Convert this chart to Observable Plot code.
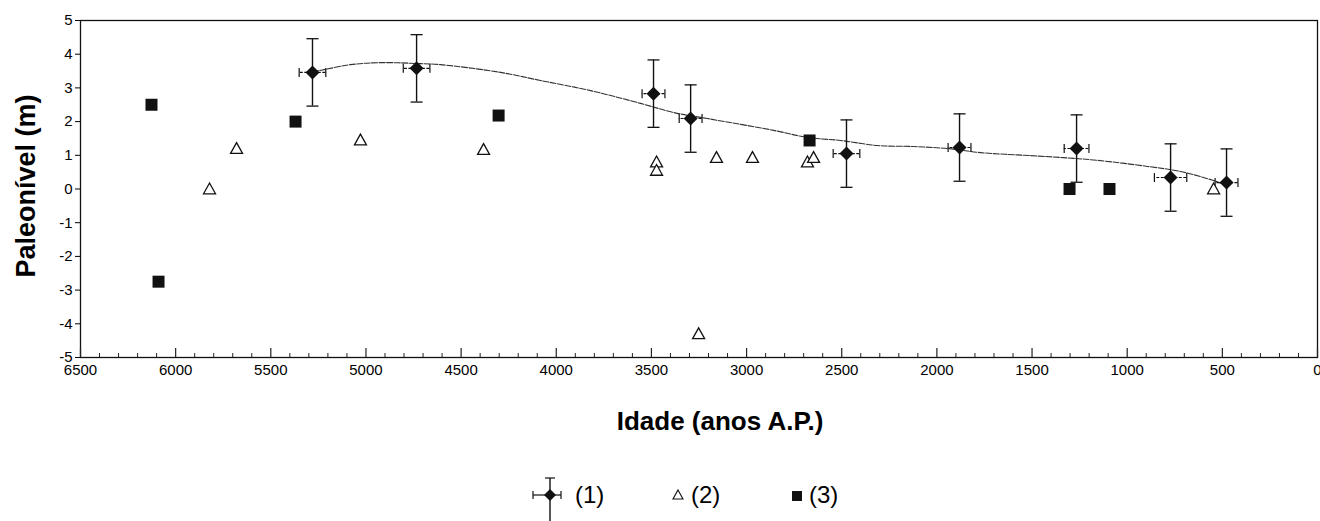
<!DOCTYPE html>
<html>
<head>
<meta charset="utf-8">
<script src="https://cdn.jsdelivr.net/npm/d3@7"></script>
<script src="https://cdn.jsdelivr.net/npm/@observablehq/plot@0.6"></script>
<style>
  html, body { margin: 0; padding: 0; background: #fff; }
  #wrap { position: relative; width: 1320px; height: 521px; font-family: "Liberation Sans", Arial, sans-serif; color: #000; overflow: hidden; }
  #ytitle { position: absolute; left: 26px; top: 186px; transform: translate(-50%, -50%) rotate(-90deg); font-size: 27px; font-weight: bold; white-space: nowrap; }
  #xtitle { position: absolute; left: 720px; top: 421px; transform: translate(-50%, -50%); font-size: 26px; font-weight: bold; white-space: nowrap; }
  .leg { position: absolute; top: 495px; transform: translateY(-50%); font-size: 24px; white-space: nowrap; }
  .legsym { position: absolute; }
</style>
</head>
<body>
<div id="wrap">
  <div id="chart"></div>
  <div id="ytitle">Paleonível (m)</div>
  <div id="xtitle">Idade (anos A.P.)</div>
  <svg class="legsym" style="left:530px; top:474px;" width="40" height="47">
    <line x1="20" y1="4" x2="20" y2="47" stroke="#111" stroke-width="1.4"/>
    <line x1="15" y1="4" x2="25" y2="4" stroke="#111" stroke-width="1.2"/>
    <line x1="3" y1="21" x2="31" y2="21" stroke="#111" stroke-width="1.2"/>
    <line x1="3" y1="17" x2="3" y2="25" stroke="#111" stroke-width="1.2"/>
    <line x1="31" y1="17" x2="31" y2="25" stroke="#111" stroke-width="1.2"/>
    <path d="M20,15L26,21L20,27L14,21Z" fill="#111"/>
  </svg>
  <div class="leg" style="left:575px;">(1)</div>
  <svg class="legsym" style="left:670px; top:488px;" width="16" height="14">
    <path d="M8,2L13,11L3,11Z" fill="none" stroke="#111" stroke-width="1.1"/>
  </svg>
  <div class="leg" style="left:691px;">(2)</div>
  <svg class="legsym" style="left:791px; top:490px;" width="12" height="12">
    <rect x="1" y="1" width="10" height="10" fill="#111"/>
  </svg>
  <div class="leg" style="left:809px;">(3)</div>
</div>
<script>
// ---- Data ----
// Series (1): dated points with error bars
const s1Age      = [5281, 4734, 3489, 3294, 2475, 1881, 1266, 772, 478];
const s1Level    = [3.46, 3.58, 2.83, 2.09, 1.05, 1.23, 1.20, 0.34, 0.19];
const s1AgeErr   = [70, 70, 60, 60, 70, 60, 65, 85, 60];
const s1LevelErr = [1, 1, 1, 1, 1, 1, 1, 1, 1];
// Series (2): open triangles
const s2Age   = [5822, 5680, 5029, 4382, 3473, 3473, 3252, 3158, 2969, 2680, 2648, 546];
const s2Level = [0.0, 1.2, 1.45, 1.17, 0.8, 0.55, -4.3, 0.93, 0.93, 0.8, 0.93, 0.0];
// Series (3): filled squares
const s3Age   = [6127, 6090, 5370, 4303, 2669, 1303, 1093];
const s3Level = [2.5, -2.75, 2.0, 2.18, 1.44, 0.0, 0.0];
// Fitted curve through series (1)
const curveAge   = [5281, 5213, 5081, 4924, 4713, 4608, 4293, 4083, 3820, 3557, 3384, 3205, 2858, 2680, 2506, 2312, 2123, 1944, 1771, 1508, 1334, 1156, 893, 720, 546, 473];
const curveLevel = [3.48, 3.55, 3.69, 3.75, 3.72, 3.69, 3.46, 3.22, 2.92, 2.54, 2.27, 2.09, 1.74, 1.53, 1.44, 1.29, 1.26, 1.20, 1.08, 0.99, 0.93, 0.85, 0.67, 0.52, 0.25, 0.10];
// Axis ticks
const xTicks = [6500, 6000, 5500, 5000, 4500, 4000, 3500, 3000, 2500, 2000, 1500, 1000, 500, 0];
const yTicks = [-5, -4, -3, -2, -1, 0, 1, 2, 3, 4, 5];

// ---- Tables ----
const s1 = s1Age.map((a, i) => ({age: a, level: s1Level[i], ae: s1AgeErr[i], le: s1LevelErr[i]}));
const s2 = s2Age.map((a, i) => ({age: a, level: s2Level[i]}));
const s3 = s3Age.map((a, i) => ({age: a, level: s3Level[i]}));
const curve = curveAge.map((a, i) => ({age: a, level: curveLevel[i]}));
const xMinor = d3.range(6500, -1, -100).filter(v => v % 500 !== 0);
const vCaps = s1.flatMap(d => [{age: d.age, level: d.level - d.le}, {age: d.age, level: d.level + d.le}]);
const hCaps = s1.flatMap(d => [{age: d.age - d.ae, level: d.level}, {age: d.age + d.ae, level: d.level}]);

// ---- Custom symbols ----
const rad = s => Math.sqrt(s / Math.PI);
const hline = {draw(c, s) { const r = rad(s); c.moveTo(-r, 0); c.lineTo(r, 0); }};
const vline = {draw(c, s) { const r = rad(s); c.moveTo(0, -r); c.lineTo(0, r); }};
const diamond = {draw(c, s) { const r = rad(s); c.moveTo(0, -r); c.lineTo(r, 0); c.lineTo(0, r); c.lineTo(-r, 0); c.closePath(); }};
const square = {draw(c, s) { const r = rad(s); c.moveTo(-r, -r); c.lineTo(r, -r); c.lineTo(r, r); c.lineTo(-r, r); c.closePath(); }};
const triangle = {draw(c, s) { const r = rad(s); c.moveTo(0, -r); c.lineTo(r, r * 0.8); c.lineTo(-r, r * 0.8); c.closePath(); }};

const H = 385, MT = 20, MB = 28;
const inner = H - MT - MB;

const chart = Plot.plot({
  width: 1320,
  height: H,
  marginTop: MT,
  marginBottom: MB,
  marginLeft: 80,
  marginRight: 3,
  style: {fontFamily: "'Liberation Sans', Arial, sans-serif", fontSize: "15px", background: "white", color: "#000"},
  x: {domain: [6500, 0]},
  y: {domain: [-5, 5]},
  marks: [
    Plot.frame({stroke: "#111", strokeWidth: 1.3}),
    Plot.ruleX(xMinor, {stroke: "#222", strokeWidth: 1, insetTop: inner - 4}),
    Plot.ruleX(xTicks, {stroke: "#222", strokeWidth: 1.2, insetTop: inner - 9}),
    Plot.axisY({ticks: yTicks, tickSize: 5, tickPadding: 3, tickFormat: d => String(d), label: null}),
    Plot.axisX({ticks: xTicks, tickSize: 0, tickPadding: 7, tickFormat: d => String(d), label: null}),
    Plot.line(curve, {x: "age", y: "level", curve: "catmull-rom", stroke: "#333", strokeWidth: 1.1, strokeDasharray: "6 1.5"}),
    Plot.ruleX(s1, {x: "age", y1: d => d.level - d.le, y2: d => d.level + d.le, stroke: "#111", strokeWidth: 1.4}),
    Plot.ruleY(s1, {y: "level", x1: d => d.age - d.ae, x2: d => d.age + d.ae, stroke: "#111", strokeWidth: 1.1, strokeDasharray: "3 1.5"}),
    Plot.dot(vCaps, {x: "age", y: "level", symbol: hline, r: 6, fill: "none", stroke: "#111", strokeWidth: 1.3}),
    Plot.dot(hCaps, {x: "age", y: "level", symbol: vline, r: 4.5, fill: "none", stroke: "#111", strokeWidth: 1.2}),
    Plot.dot(s2, {x: "age", y: "level", symbol: triangle, r: 6, fill: "white", stroke: "#111", strokeWidth: 1.3}),
    Plot.dot(s3, {x: "age", y: "level", symbol: square, r: 6, fill: "#111", stroke: "none"}),
    Plot.dot(s1, {x: "age", y: "level", symbol: diamond, r: 7, fill: "#111", stroke: "none"})
  ]
});
document.getElementById("chart").appendChild(chart);
</script>
</body>
</html>
